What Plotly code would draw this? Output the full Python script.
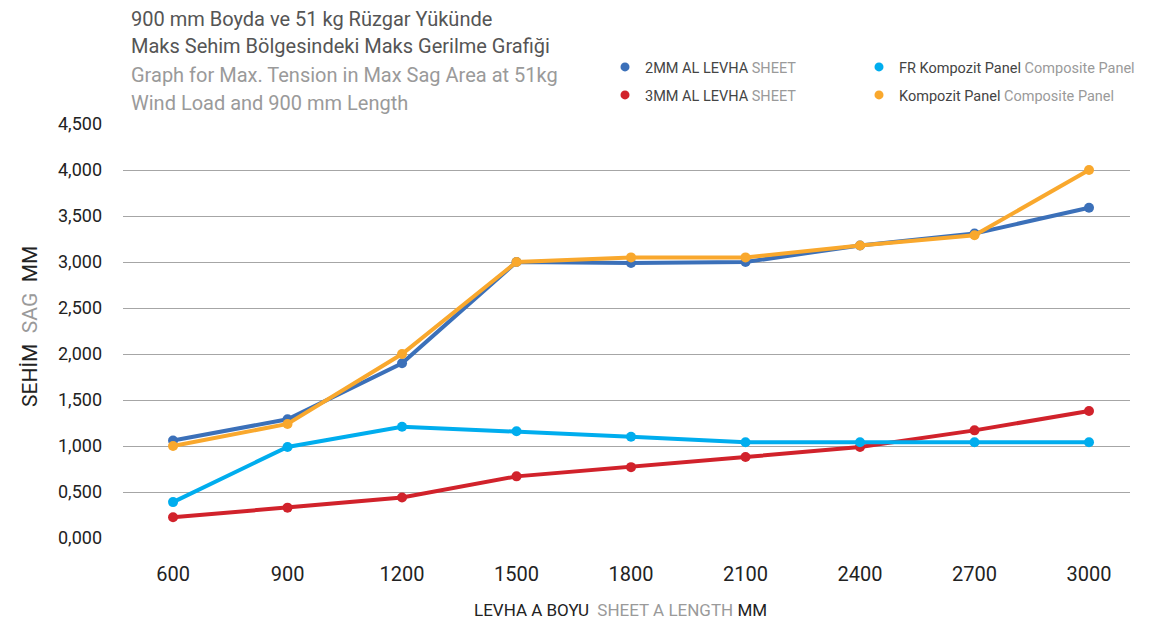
import plotly.graph_objects as go

lengths = ["600", "900", "1200", "1500", "1800", "2100", "2400", "2700", "3000"]
al2 = [1.06, 1.29, 1.90, 3.00, 2.99, 3.00, 3.18, 3.31, 3.59]
al3 = [0.225, 0.33, 0.44, 0.67, 0.77, 0.88, 0.99, 1.17, 1.38]
fr_panel = [0.39, 0.99, 1.21, 1.16, 1.10, 1.04, 1.04, 1.04, 1.04]
komp = [1.00, 1.24, 2.00, 3.00, 3.05, 3.05, 3.18, 3.29, 4.00]

names = {
    "al2": "2MM AL LEVHA <span style='color:#9a9a9a'>SHEET</span>",
    "al3": "3MM AL LEVHA <span style='color:#9a9a9a'>SHEET</span>",
    "fr": "FR Kompozit Panel <span style='color:#9a9a9a'>Composite Panel</span>",
    "komp": "Kompozit Panel <span style='color:#9a9a9a'>Composite Panel</span>",
}
colors = {"al2": "#3b70b9", "al3": "#d1222b", "fr": "#00adee", "komp": "#f9a82d"}
series = {"al2": al2, "al3": al3, "fr": fr_panel, "komp": komp}

FONT = "Roboto"
OFF = 8  # page body margin
W, H = 1155 - OFF, 625 - OFF
ML = 123 - OFF
MT = 124 - OFF
MR = 1155 - 1130
MB = 625 - 538
pw = W - ML - MR
ph = H - MT - MB


def px_to_paper(px, py):
    fx, fy = px - OFF, py - OFF
    return (fx - ML) / pw, (H - MB - fy) / ph


fig = go.Figure()
for key in ["al2", "al3", "fr", "komp"]:
    fig.add_trace(go.Scatter(
        x=lengths, y=series[key], mode="lines+markers",
        line=dict(color=colors[key], width=4),
        marker=dict(color=colors[key], size=10),
        showlegend=False, hoverinfo="x+y",
    ))

leg_pos = {
    "al2": ("legend", 605, 67),
    "fr": ("legend2", 859, 67),
    "al3": ("legend3", 605, 95),
    "komp": ("legend4", 859, 95),
}
layout_legends = {}
for key, (leg, px, py) in leg_pos.items():
    fig.add_trace(go.Scatter(
        x=[None], y=[None], mode="markers", name=names[key],
        marker=dict(color=colors[key], size=9), legend=leg,
    ))
    lx, ly = px_to_paper(px, py)
    layout_legends[leg] = dict(
        x=lx, y=ly, orientation="h", xanchor="left", yanchor="middle",
        font=dict(family=FONT, size=14.5, color="#444"),
        bgcolor="rgba(0,0,0,0)", itemwidth=30,
    )

fig.update_layout(
    width=W, height=H,
    margin=dict(l=ML, r=MR, t=MT, b=MB, autoexpand=False),
    paper_bgcolor="white", plot_bgcolor="white",
    separators=",.",
    font=dict(family=FONT, color="#222"),
    xaxis=dict(
        type="category", range=[-0.437, 8.358], showgrid=False, zeroline=False,
        showline=False, ticks="", tickfont=dict(family=FONT, size=20, color="#222"),
        ticklabelstandoff=22,
    ),
    yaxis=dict(
        range=[0, 4.5], dtick=0.5, tickformat=".3f", showgrid=True,
        gridcolor="#a6a6a6", gridwidth=1, zeroline=False, showline=False,
        ticks="", tickfont=dict(family=FONT, size=18, color="#222"),
        ticklabelstandoff=20,
    ),
    **layout_legends,
)

titles = [
    ("900 mm Boyda ve 51 kg Rüzgar Yükünde", 19, "#555555"),
    ("Maks Sehim Bölgesindeki Maks Gerilme Grafiği", 46, "#555555"),
    ("Graph for Max. Tension in Max Sag Area at 51kg", 75, "#9a9a9a"),
    ("Wind Load and 900 mm Length", 103, "#9a9a9a"),
]
ann = []
for text, py, col in titles:
    xp, yp = px_to_paper(129, py)
    ann.append(dict(text=text, x=xp, y=yp, xref="paper", yref="paper",
                    xanchor="left", yanchor="middle", showarrow=False,
                    font=dict(family=FONT, size=20, color=col)))

xp, yp = px_to_paper(30, 327)
ann.append(dict(text="SEHİM  <span style='color:#9a9a9a'>SAG</span>  MM", x=xp, y=yp,
                xref="paper", yref="paper", textangle=-90, showarrow=False,
                xanchor="center", yanchor="middle",
                font=dict(family=FONT, size=21, color="#222")))
xp, yp = px_to_paper(620, 610)
ann.append(dict(text="LEVHA A BOYU  <span style='color:#9a9a9a'>SHEET A LENGTH</span> MM",
                x=xp, y=yp, xref="paper", yref="paper", showarrow=False,
                xanchor="center", yanchor="middle",
                font=dict(family=FONT, size=17, color="#222")))
fig.update_layout(annotations=ann)

fig.write_html("out.html")
